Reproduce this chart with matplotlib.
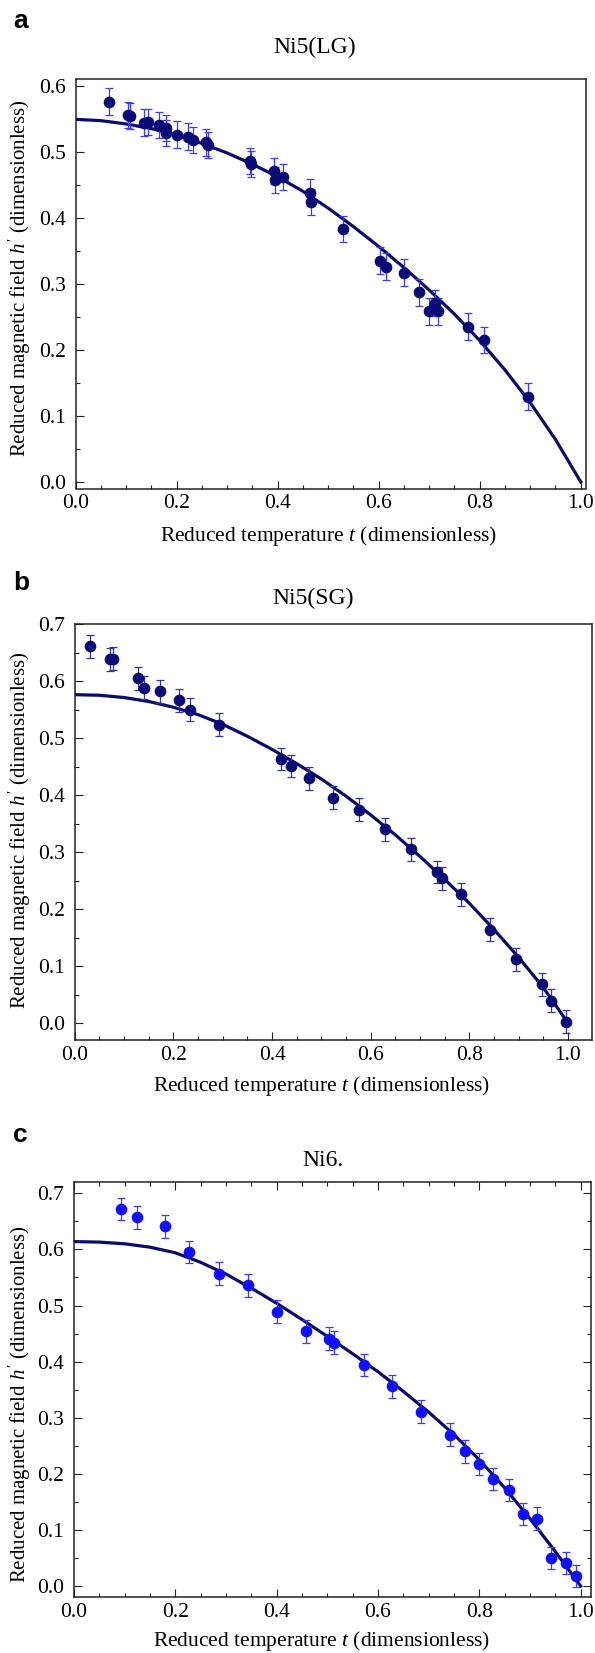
import numpy as np
import matplotlib
matplotlib.use("Agg")
import matplotlib.pyplot as plt
from matplotlib.ticker import MultipleLocator, FormatStrFormatter

plt.rcParams['font.family'] = ['Liberation Serif', 'DejaVu Serif']
plt.rcParams['mathtext.fontset'] = 'custom'
plt.rcParams['mathtext.rm'] = 'Liberation Serif'
plt.rcParams['mathtext.it'] = 'Liberation Serif:italic'

# ---------------- data ----------------
# Panel a: Ni5(LG)
a_t = [0.066, 0.104, 0.107, 0.135, 0.143, 0.165, 0.178, 0.178, 0.201, 0.223, 0.233,
       0.259, 0.261, 0.346, 0.348, 0.393, 0.395, 0.410, 0.464, 0.466, 0.529,
       0.602, 0.614, 0.650, 0.680, 0.699, 0.711, 0.718, 0.776, 0.808, 0.895]
a_h = [0.576, 0.556, 0.554, 0.544, 0.545, 0.540, 0.536, 0.528, 0.526, 0.523, 0.518,
       0.514, 0.510, 0.486, 0.481, 0.471, 0.457, 0.462, 0.438, 0.424, 0.383,
       0.335, 0.326, 0.317, 0.287, 0.258, 0.271, 0.258, 0.235, 0.215, 0.129]
a_err = 0.02

# Panel b: Ni5(SG)
b_t = [0.031, 0.072, 0.078, 0.129, 0.141, 0.173, 0.212, 0.233, 0.292, 0.419, 0.439,
       0.474, 0.524, 0.576, 0.629, 0.681, 0.735, 0.745, 0.782, 0.841, 0.895,
       0.948, 0.965, 0.995]
b_h = [0.661, 0.638, 0.639, 0.605, 0.588, 0.582, 0.566, 0.550, 0.523, 0.463, 0.451,
       0.429, 0.395, 0.374, 0.340, 0.305, 0.265, 0.254, 0.226, 0.164, 0.112,
       0.068, 0.039, 0.002]
b_err = 0.02

# Panel c: Ni6.
c_t = [0.092, 0.124, 0.180, 0.227, 0.286, 0.343, 0.401, 0.458, 0.503, 0.513, 0.572,
       0.628, 0.685, 0.743, 0.772, 0.800, 0.828, 0.858, 0.886, 0.914, 0.942,
       0.972, 0.991]
c_h = [0.672, 0.657, 0.641, 0.595, 0.557, 0.536, 0.489, 0.454, 0.441, 0.434, 0.394,
       0.356, 0.311, 0.270, 0.240, 0.218, 0.191, 0.171, 0.128, 0.120, 0.050,
       0.041, 0.018]
c_err = 0.02

# Fitted curves
fit_t = [0.00, 0.05, 0.10, 0.15, 0.20, 0.25, 0.30, 0.35, 0.40, 0.45, 0.50,
         0.55, 0.60, 0.65, 0.70, 0.75, 0.80, 0.85, 0.90, 0.95, 1.00]
a_fit = [0.549, 0.547, 0.542, 0.535, 0.525, 0.5125, 0.498, 0.481, 0.462, 0.440, 0.4145,
         0.3865, 0.3565, 0.3245, 0.2905, 0.254, 0.214, 0.1695, 0.120, 0.0642, 0.000]
b_fit = [0.576, 0.575, 0.571, 0.564, 0.554, 0.541, 0.524, 0.503, 0.480, 0.455, 0.428,
         0.398, 0.365, 0.330, 0.292, 0.252, 0.210, 0.164, 0.115, 0.062, 0.000]
c_fit = [0.614, 0.613, 0.610, 0.604, 0.594, 0.577, 0.556, 0.531, 0.504, 0.475, 0.445,
         0.414, 0.382, 0.347, 0.310, 0.270, 0.225, 0.175, 0.120, 0.0615, 0.000]

titles = ["Ni5(LG)", "Ni5(SG)", "Ni6."]
letters = ["a", "b", "c"]
xticks = [0.0, 0.2, 0.4, 0.6, 0.8, 1.0]
xlabel_text = r"Reduced temperature $t$ (dimensionless)"
ylabel_text = r"Reduced magnetic field $h'$ (dimensionless)"

# ---------------- figure ----------------
W, H = 595, 1653
fig = plt.figure(figsize=(W / 100, H / 100), dpi=100)

def px_axes(l, r, t, b):
    return fig.add_axes([l / W, 1 - b / H, (r - l) / W, (b - t) / H])

line_col = '#0a0a6e'
serif = ['Liberation Serif', 'DejaVu Serif']
panels = [
    dict(box=(75.7, 585.7, 79, 488.5), xlim=(0, 1.0099), ylim=(-0.0101, 0.6101),
         t=a_t, h=a_h, err=a_err, fit=a_fit, mc='#0b0b78', ec='#3c3cff',
         yticks=[0.0, 0.1, 0.2, 0.3, 0.4, 0.5, 0.6], mirror=False,
         title_xy=(315, 53), letter_xy=(13, 28), xl_y=541.5, xl_x=329, yl_y=278.5),
    dict(box=(74.8, 591.7, 624, 1040), xlim=(0, 1.048), ylim=(-0.0298, 0.700),
         t=b_t, h=b_h, err=b_err, fit=b_fit, mc='#0b0b78', ec='#3434a2',
         yticks=[0.0, 0.1, 0.2, 0.3, 0.4, 0.5, 0.6, 0.7], mirror=False,
         title_xy=(313, 604), letter_xy=(13, 590), xl_y=1091, xl_x=322, yl_y=830.5),
    dict(box=(74.0, 591.0, 1181.7, 1597.3), xlim=(0, 1.0205), ylim=(-0.0201, 0.7207),
         t=c_t, h=c_h, err=c_err, fit=c_fit, mc='#1010ff', ec='#3c3cf0',
         yticks=[0.0, 0.1, 0.2, 0.3, 0.4, 0.5, 0.6, 0.7], mirror=True,
         title_xy=(323, 1166), letter_xy=(13, 1142), xl_y=1646, xl_x=322, yl_y=1404),
]

for i, p in enumerate(panels):
    l, r, t, b = p['box']
    ax = px_axes(l, r, t, b)
    ax.plot(fit_t, p['fit'], color=line_col, lw=2.3, zorder=2)
    ax.errorbar(p['t'], p['h'], yerr=p['err'], fmt='o', ms=7.4, mfc=p['mc'], mec=p['mc'],
                ecolor=p['ec'], elinewidth=0.9, capsize=3.2, capthick=0.9, zorder=3)
    ax.set_xlim(*p['xlim'])
    ax.set_ylim(*p['ylim'])
    ax.set_xticks(xticks)
    ax.set_yticks(p['yticks'])
    ax.xaxis.set_minor_locator(MultipleLocator(0.05))
    ax.yaxis.set_minor_locator(MultipleLocator(0.05))
    ax.xaxis.set_major_formatter(FormatStrFormatter('%.1f'))
    ax.yaxis.set_major_formatter(FormatStrFormatter('%.1f'))
    m = p['mirror']
    ax.tick_params(which='both', direction='in', top=m, right=m, width=0.8,
                   color='#222222', labelsize=15.5, labelfontfamily='Liberation Serif')
    ax.tick_params(which='major', length=5.5)
    ax.tick_params(which='minor', length=3.0)
    ax.tick_params(axis='x', which='both', pad=4.0)
    ax.tick_params(axis='y', which='both', pad=7.0)
    for lbl in ax.get_xticklabels() + ax.get_yticklabels():
        lbl.set_fontfamily(serif)
    for s in ax.spines.values():
        s.set_linewidth(1.1)
        s.set_color('#222222')
    tx, ty = p['title_xy']
    fig.text(tx / W, 1 - ty / H, titles[i], ha='center', va='baseline', fontsize=17)
    lx, ly = p['letter_xy']
    fig.text(lx / W, 1 - ly / H, letters[i], ha='left', va='baseline', fontsize=19,
             fontweight='bold', family=['Liberation Sans', 'DejaVu Sans'])
    fig.text(p['xl_x'] / W, 1 - p['xl_y'] / H, xlabel_text,
             ha='center', va='baseline', fontsize=15.5)
    fig.text(20 / W, 1 - p['yl_y'] / H, ylabel_text,
             ha='center', va='center', rotation=90, fontsize=15)

fig.savefig('out.png', dpi=100)
